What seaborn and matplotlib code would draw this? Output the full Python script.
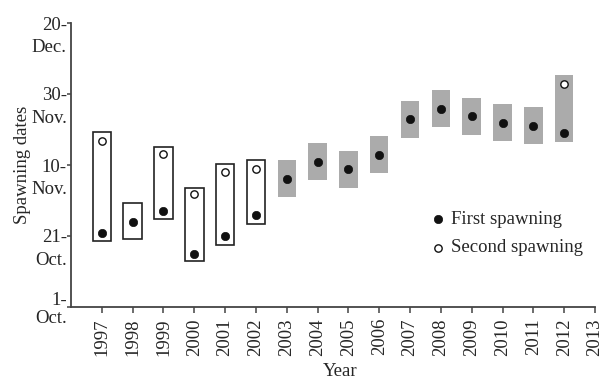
import matplotlib
matplotlib.use("Agg")
import matplotlib.pyplot as plt
import pandas as pd
import seaborn as sns

# Spawning season data, expressed as days after 1 October
years = list(range(1997, 2013))
window_start = [18.7, 19.1, 24.7, 13.0, 17.5, 23.4, 31.1, 35.9,
                33.6, 37.8, 47.7, 50.8, 48.5, 46.8, 46.0, 46.6]
window_end = [49.4, 29.2, 45.2, 33.6, 40.4, 41.3, 41.4, 46.2,
              43.9, 48.2, 58.0, 61.1, 58.9, 57.2, 56.3, 65.4]
first_spawning = [20.9, 23.9, 27.0, 14.9, 20.0, 26.0, 36.0, 40.9,
                  39.0, 42.9, 52.9, 55.9, 53.9, 51.9, 50.9, 48.9]
second_years = [1997, 1999, 2000, 2001, 2002, 2012]
second_spawning = [46.8, 43.0, 31.9, 38.0, 38.9, 62.9]

ytick_values = [0, 20, 40, 60, 80]
ytick_days = ["1-", "21-", "10-", "30-", "20-"]
ytick_months = ["Oct.", "Oct.", "Nov.", "Nov.", "Dec."]
xtick_values = list(range(1997, 2014))

sns.set_theme(style="ticks")
plt.rcParams["font.family"] = ["Liberation Serif", "DejaVu Serif"]

fs = 13.5
fig = plt.figure(figsize=(6.03, 3.79), dpi=100)
ax = fig.add_axes([71 / 603, 72 / 379, 524 / 603, 284 / 379])

first_df = pd.DataFrame({"year": years, "day": first_spawning})
second_df = pd.DataFrame({"year": second_years, "day": second_spawning})

# Spawning windows: open boxes up to 2002, grey boxes afterwards
heights = [e - s for s, e in zip(window_start, window_end)]
faces = ["white" if y <= 2002 else "#ababab" for y in years]
edges = ["#222222" if y <= 2002 else "none" for y in years]
ax.bar(years, heights, bottom=window_start, width=0.6, color=faces,
       edgecolor=edges, linewidth=1.2, zorder=1)

sns.scatterplot(data=first_df, x="year", y="day", ax=ax, color="#111111",
                s=36, edgecolor="#111111", linewidth=0.5, zorder=3,
                label="First spawning")
sns.scatterplot(data=second_df, x="year", y="day", ax=ax, color="white",
                s=28, edgecolor="#111111", linewidth=1.0, zorder=3,
                label="Second spawning")

ax.set_xlim(1996, 2013)
ax.set_ylim(0, 80)

ax.set_xticks(xtick_values)
ax.set_xticklabels([str(v) for v in xtick_values], rotation=90, fontsize=fs)

# Day number on each tick; month name on an unmarked minor tick just below
# (the origin keeps both lines in one label so it stays inside the axis range)
major_labels = [f"{ytick_days[0]}\n{ytick_months[0]}"] + ytick_days[1:]
ax.set_yticks(ytick_values)
ax.set_yticklabels(major_labels, fontsize=fs, linespacing=1.1)
month_offset = 6.4
ax.set_yticks([v - month_offset for v in ytick_values[1:]], minor=True)
ax.set_yticklabels(ytick_months[1:], minor=True, fontsize=fs)

ax.tick_params(axis="y", which="major", length=3, width=1.1, pad=0, color="#444444")
ax.tick_params(axis="y", which="minor", length=0, pad=3)
ax.tick_params(axis="x", length=4, width=1.1, pad=4, color="#444444")

for side in ["top", "right"]:
    ax.spines[side].set_visible(False)
for side in ["left", "bottom"]:
    ax.spines[side].set_color("#444444")
    ax.spines[side].set_linewidth(1.3)

ax.set_xlabel("Year", fontsize=fs, labelpad=0)
ax.set_ylabel("Spawning dates", fontsize=fs, labelpad=0)
ax.xaxis.set_label_coords(0.513, -0.198)

ax.legend(loc="center left", bbox_to_anchor=(0.686, 0.258), frameon=False,
          fontsize=fs, handlelength=0.8, handletextpad=0.3, labelspacing=0.6,
          borderpad=0, borderaxespad=0)

fig.savefig("out.png", dpi=100)
